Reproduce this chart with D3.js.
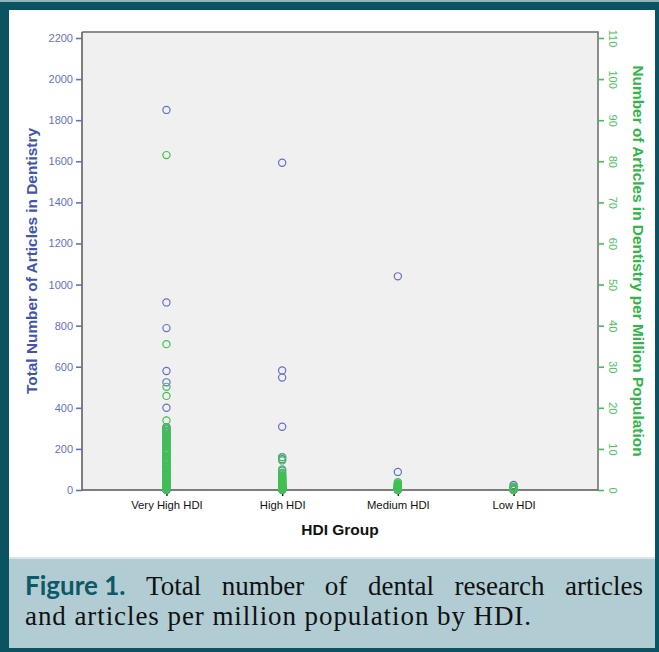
<!DOCTYPE html>
<html>
<head>
<meta charset="utf-8">
<script src="https://cdn.jsdelivr.net/npm/d3@7"></script>
<style>
  body { margin: 0; background: #fff; }
  svg { display: block; }
</style>
</head>
<body>
<svg width="659" height="652"></svg>
<script>
(function (d3) {
  'use strict';

  // ---- data ----
  const groups = ['Very High HDI', 'High HDI', 'Medium HDI', 'Low HDI'];

  // total number of articles (left axis)
  const veryHighTotal = [1850, 913, 788, 579, 524, 400, 305, 296, 288, 280, 272, 264, 255, 246, 238, 230,
    221, 212, 200, 188, 176, 162, 150, 138, 125, 112, 100, 88, 76, 65, 55, 46, 38, 31, 25, 20, 16, 12,
    9, 7, 5, 4, 3, 2, 2, 1, 1];
  const highTotal = [1593, 582, 547, 308, 160, 150, 95, 80, 70, 60, 52, 45, 38, 32, 27, 22, 18, 15, 12,
    10, 8, 6, 5, 4, 3, 3, 2, 2, 1, 1];
  const mediumTotal = [1040, 88, 25, 18, 12, 9, 7, 5, 4, 3, 2, 2, 1, 1, 1];
  const lowTotal = [24, 10, 6, 4, 3, 2, 1, 1];

  // articles per million population (right axis)
  const veryHighPerMillion = [81.5, 35.5, 25.1, 22.9, 16.9, 15.3, 14.9, 14.4, 14.1, 13.6, 13.2, 12.9,
    12.4, 12.0, 11.7, 11.2, 10.8, 10.5, 10.0, 9.6, 9.3, 8.8, 8.4, 8.1, 7.6, 7.2, 6.9, 6.4, 6.0, 5.7,
    5.2, 4.8, 4.5, 4.0, 3.6, 3.3, 2.8, 2.4, 2.1, 1.7, 1.4, 1.1, 0.8, 0.6, 0.4, 0.2, 0.1];
  const highPerMillion = [8.0, 7.2, 5.0, 4.2, 3.6, 3.3, 3.0, 2.8, 2.6, 2.4, 2.2, 2.0, 1.8, 1.6, 1.5,
    1.4, 1.2, 1.1, 1.0, 0.9, 0.8, 0.7, 0.6, 0.5, 0.4, 0.3, 0.3, 0.2, 0.1, 0.1];
  const mediumPerMillion = [1.9, 1.6, 1.4, 1.2, 1.0, 0.8, 0.7, 0.6, 0.5, 0.4, 0.3, 0.2, 0.1, 0.1, 0.05];
  const lowPerMillion = [0.8, 0.5, 0.4, 0.3, 0.2, 0.1, 0.1, 0.05];

  const leftTicks = [0, 200, 400, 600, 800, 1000, 1200, 1400, 1600, 1800, 2000, 2200];
  const rightTicks = [0, 10, 20, 30, 40, 50, 60, 70, 80, 90, 100, 110];

  const totals = [veryHighTotal, highTotal, mediumTotal, lowTotal];
  const perMillion = [veryHighPerMillion, highPerMillion, mediumPerMillion, lowPerMillion];

  const xAxisLabelText = 'HDI Group';
  const yAxisLabelText = 'Total Number of Articles in Dentistry';
  const y2AxisLabelText = 'Number of Articles in Dentistry per Million Population';
  const captionLead = 'Figure 1.';
  const captionLine1 = 'Total number of dental research articles';
  const captionLine2 = 'and articles per million population by HDI.';

  const blue = '#6471c2';
  const green = '#41c053';
  const teal = '#0b5360';
  const sans = '"Liberation Sans", Arial, sans-serif';

  const svg = d3.select('svg');
  const width = +svg.attr('width');
  const height = +svg.attr('height');

  // ---- frame ----
  svg.append('rect').attr('width', width).attr('height', height).attr('fill', teal);
  svg.append('rect').attr('width', width).attr('height', 2).attr('fill', '#8fb4bc');
  svg.append('rect').attr('x', 9).attr('y', 10).attr('width', 646).attr('height', 547).attr('fill', '#fff');
  svg.append('rect').attr('x', 9).attr('y', 557).attr('width', 646).attr('height', 2).attr('fill', '#d9e7ea');
  svg.append('rect').attr('x', 9).attr('y', 559).attr('width', 646).attr('height', 89).attr('fill', '#b1cdd3');

  // ---- plot ----
  const plot = { left: 82, right: 598, top: 32, bottom: 490 };

  const xScale = d3.scalePoint()
    .domain(groups)
    .range([plot.left, plot.right])
    .padding(0.73);
  const yScale = d3.scaleLinear().domain([0, 2200]).range([plot.bottom, 38]);
  const y2Scale = d3.scaleLinear().domain([0, 110]).range([plot.bottom, 38]);

  svg.append('rect')
    .attr('x', plot.left).attr('y', plot.top)
    .attr('width', plot.right - plot.left).attr('height', plot.bottom - plot.top)
    .attr('fill', '#f0f0f0');

  // frame lines
  svg.append('path')
    .attr('d', `M${plot.left},${plot.top}H${plot.right}V${plot.bottom}`)
    .attr('fill', 'none').attr('stroke', '#6b6b6b').attr('stroke-width', 1.5);
  svg.append('path')
    .attr('d', `M${plot.left},${plot.top}V${plot.bottom}H${plot.right}`)
    .attr('fill', 'none').attr('stroke', '#555').attr('stroke-width', 1.5);

  // left axis
  const yAxisG = svg.append('g')
    .attr('transform', `translate(${plot.left},0)`)
    .call(d3.axisLeft(yScale).tickValues(leftTicks).tickFormat(d3.format('d')).tickSize(6).tickPadding(3));
  yAxisG.select('.domain').remove();
  yAxisG.selectAll('line').attr('stroke', blue).attr('stroke-width', 1.6);
  yAxisG.selectAll('text')
    .attr('fill', blue)
    .style('font', '11px ' + sans);

  // right axis
  const y2AxisG = svg.append('g')
    .attr('transform', `translate(${plot.right},0)`)
    .call(d3.axisRight(y2Scale).tickValues(rightTicks).tickSize(6));
  y2AxisG.select('.domain').remove();
  y2AxisG.selectAll('line').attr('stroke', green).attr('stroke-width', 1.6);
  y2AxisG.selectAll('text')
    .attr('x', 0).attr('y', 0).attr('dy', '0.33em')
    .attr('transform', 'translate(15,0) rotate(90)')
    .attr('text-anchor', 'middle')
    .attr('fill', '#4cc25e')
    .style('font', '11px ' + sans);

  // bottom axis
  const xAxisG = svg.append('g')
    .attr('transform', `translate(0,${plot.bottom})`)
    .call(d3.axisBottom(xScale).tickSize(6).tickPadding(5));
  xAxisG.select('.domain').remove();
  xAxisG.selectAll('line').attr('stroke', '#222').attr('stroke-width', 1.5);
  xAxisG.selectAll('text')
    .attr('fill', '#111')
    .style('font', '11.3px ' + sans);

  // axis titles
  svg.append('text')
    .attr('transform', `translate(${(plot.left + plot.right) / 2},535)`)
    .attr('text-anchor', 'middle')
    .attr('fill', '#111')
    .style('font', 'bold 15.5px ' + sans)
    .text(xAxisLabelText);

  svg.append('text')
    .attr('transform', `translate(37,${(plot.top + plot.bottom) / 2}) rotate(-90)`)
    .attr('text-anchor', 'middle')
    .attr('fill', '#4354ad')
    .style('font', 'bold 15.4px ' + sans)
    .text(yAxisLabelText);

  svg.append('text')
    .attr('transform', `translate(633,${(plot.top + plot.bottom) / 2}) rotate(90)`)
    .attr('text-anchor', 'middle')
    .attr('fill', '#2fb548')
    .style('font', 'bold 15.4px ' + sans)
    .text(y2AxisLabelText);

  // points: totals first, per-million drawn over them
  const bluePts = [];
  totals.forEach((arr, i) => arr.forEach(v => bluePts.push({ g: groups[i], v })));
  const greenPts = [];
  perMillion.forEach((arr, i) => arr.forEach(v => greenPts.push({ g: groups[i], v })));

  svg.append('g').selectAll('circle').data(bluePts)
    .enter().append('circle')
      .attr('cx', d => xScale(d.g))
      .attr('cy', d => yScale(d.v))
      .attr('r', 3.6)
      .attr('fill', 'none')
      .attr('stroke', blue)
      .attr('stroke-width', 1.2);

  svg.append('g').selectAll('circle').data(greenPts)
    .enter().append('circle')
      .attr('cx', d => xScale(d.g))
      .attr('cy', d => y2Scale(d.v))
      .attr('r', 3.6)
      .attr('fill', 'none')
      .attr('stroke', green)
      .attr('stroke-width', 1.2);

  // ---- caption (first line justified) ----
  const capX0 = 25, capX1 = 643;
  const serif = '27px "Liberation Serif", "Times New Roman", serif';
  const words1 = [{ t: captionLead, lead: true }].concat(captionLine1.split(' ').map(t => ({ t })));
  const cap = svg.append('g');
  const nodes = words1.map(w => cap.append('text')
    .attr('y', 595)
    .attr('fill', w.lead ? '#0d5966' : '#111')
    .style('font', w.lead ? 'bold 26px Lato, "Open Sans", sans-serif' : serif)
    .text(w.t));
  const widths = nodes.map(n => n.node().getComputedTextLength());
  const gap = (capX1 - capX0 - d3.sum(widths)) / (nodes.length - 1);
  let cx = capX0;
  nodes.forEach((n, i) => { n.attr('x', cx); cx += widths[i] + gap; });

  cap.append('text')
    .attr('x', capX0).attr('y', 625)
    .attr('fill', '#111')
    .attr('textLength', 506)
    .attr('lengthAdjust', 'spacing')
    .style('font', serif)
    .text(captionLine2);

}(d3));
</script>
</body>
</html>
